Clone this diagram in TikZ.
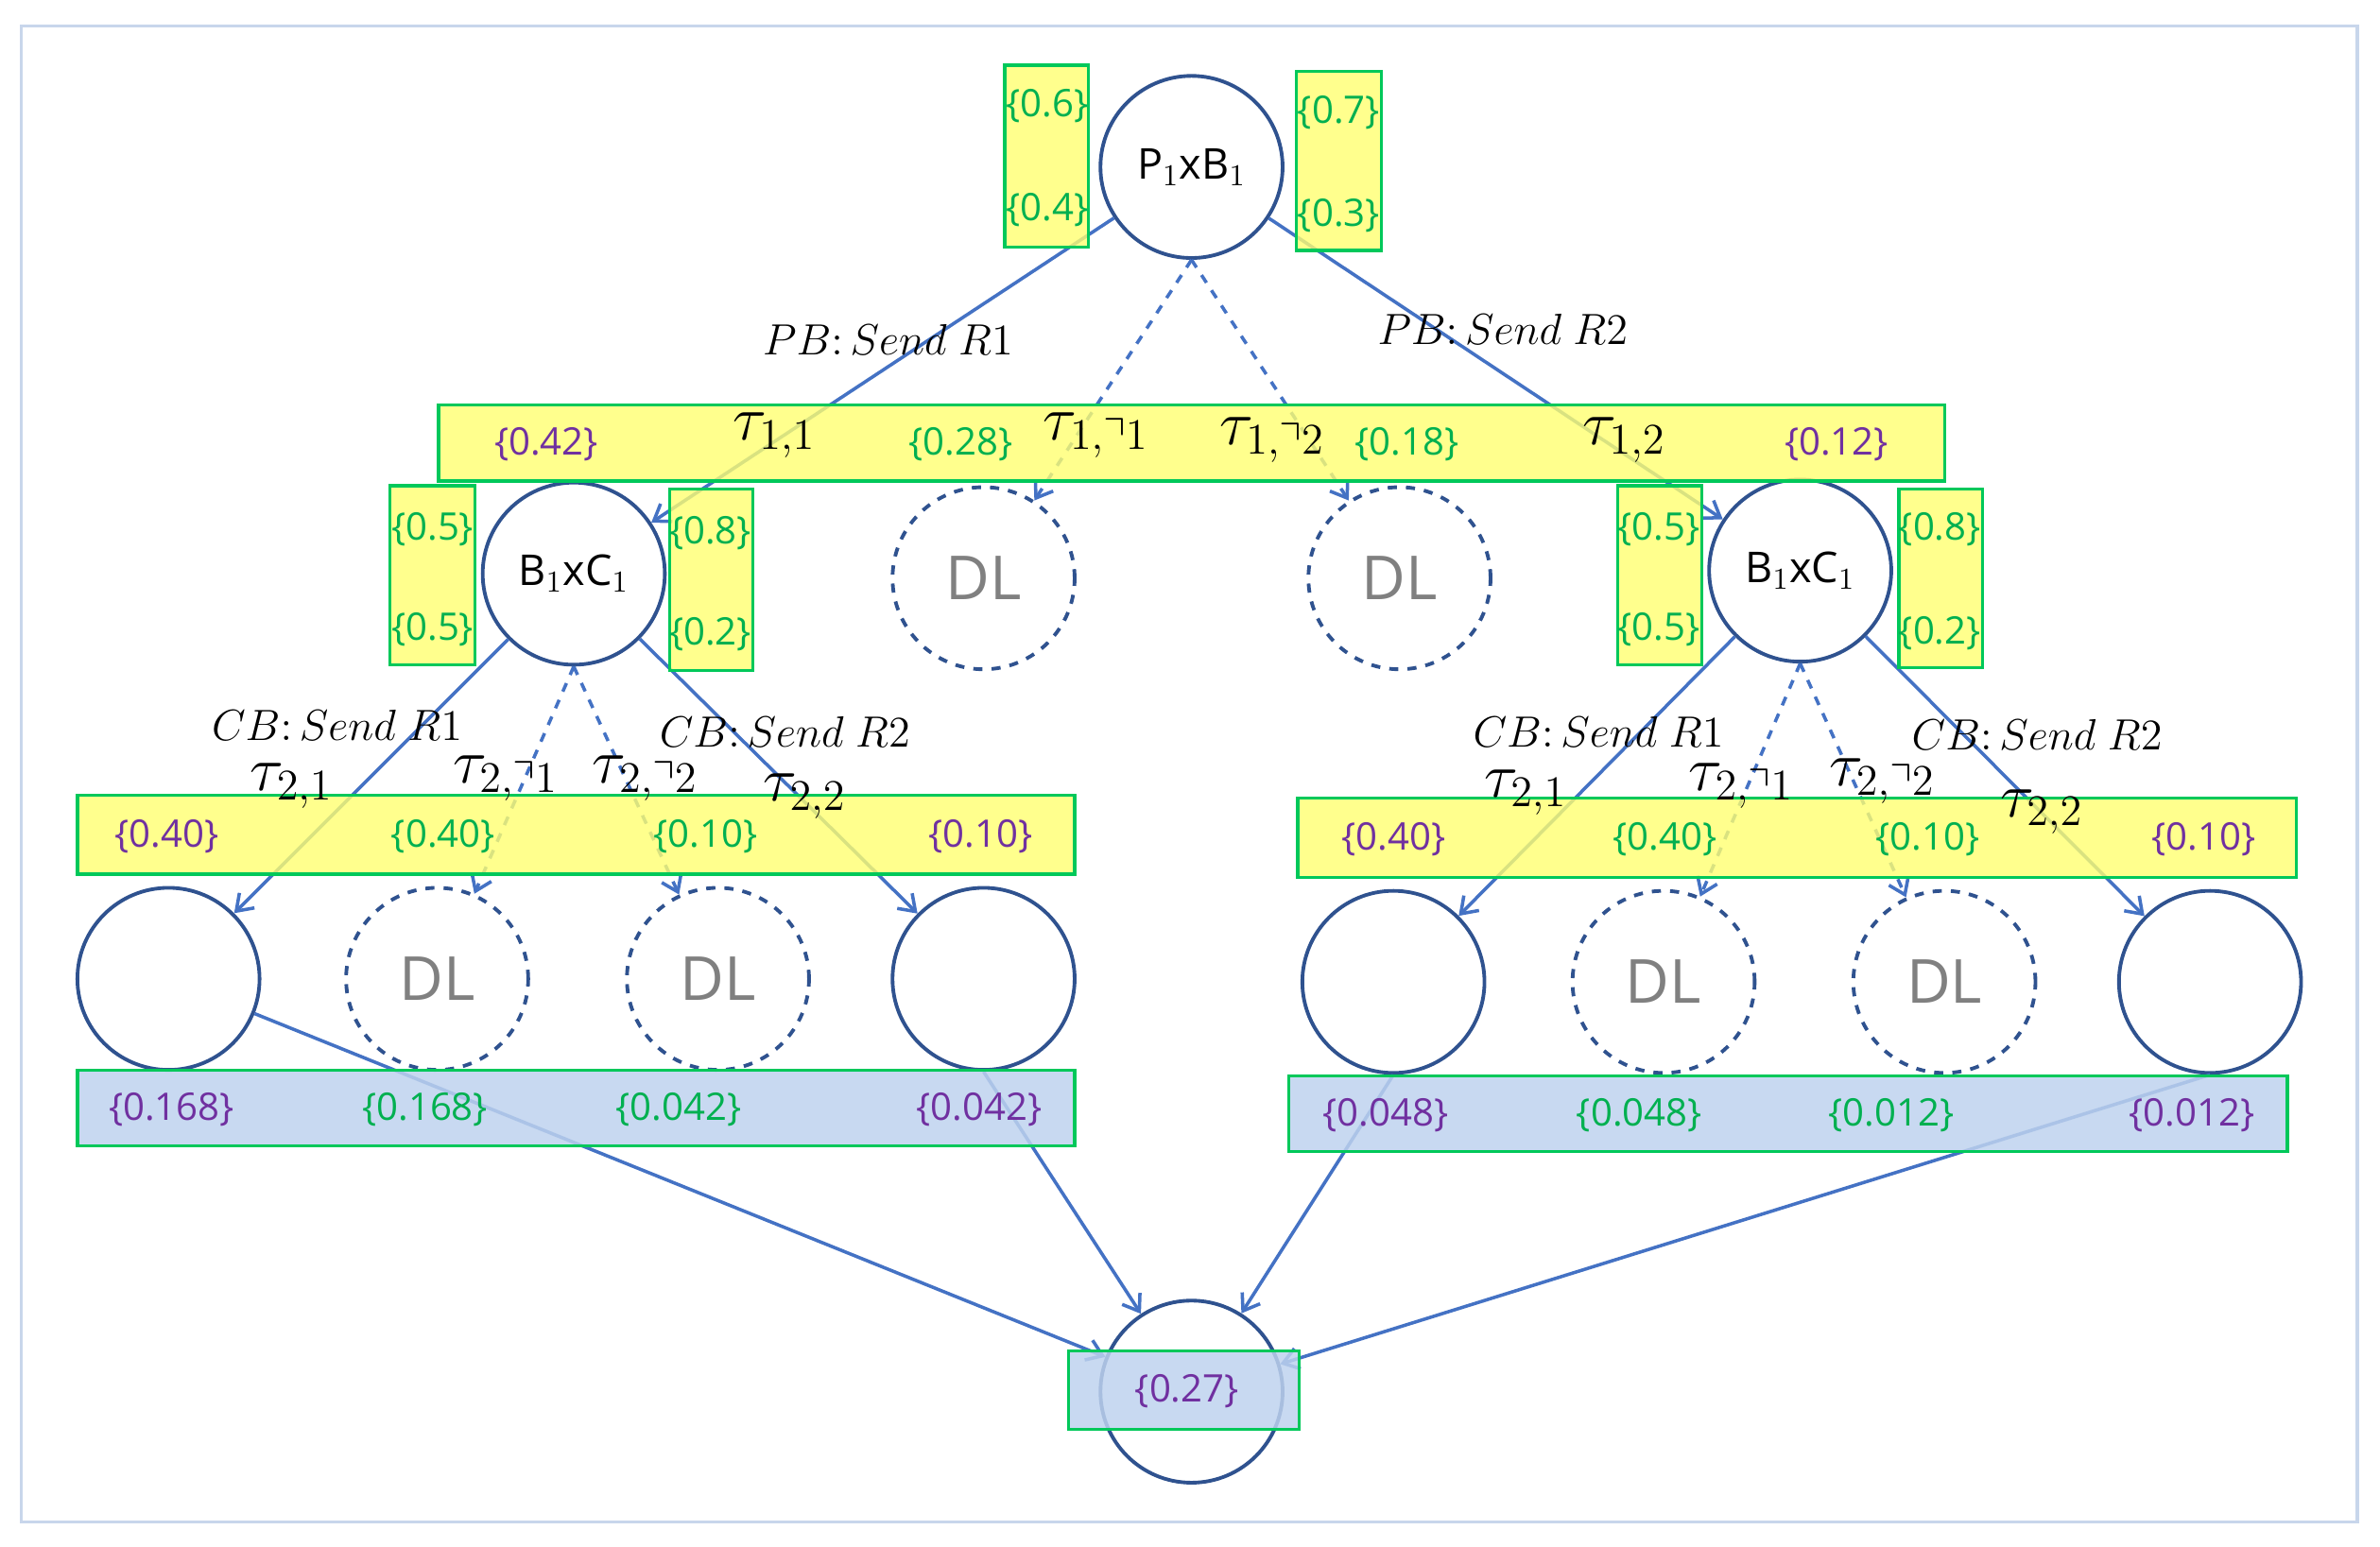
\documentclass[tikz,border=0pt]{standalone}
\usepackage{amssymb}
\usepackage{fontspec}
\setmainfont{Open Sans}
\usetikzlibrary{arrows.meta}
\definecolor{nodeblue}{RGB}{47,82,143}
\definecolor{arrowblue}{RGB}{68,114,196}
\definecolor{probgreen}{RGB}{0,176,80}
\definecolor{probpurple}{RGB}{112,48,160}
\definecolor{baryellow}{RGB}{255,255,112}
\definecolor{baredge}{RGB}{0,200,90}
\definecolor{barblue}{RGB}{190,210,238}
\definecolor{framecol}{RGB}{200,214,235}
\tikzset{every picture/.style={line width=0.75pt}}
\tikzset{
  state/.style={circle,draw=nodeblue,line width=1.2pt,minimum size=60pt,inner sep=0pt,font=\fontsize{14}{16}\selectfont},
  dead/.style={state,dashed,text=gray,font=\fontsize{20}{22}\selectfont},
  move/.style={draw=arrowblue,line width=1.1pt,-{Straight Barb[length=5pt,width=7pt]}},
  skip/.style={move,dashed},
  ybar/.style={draw=baredge,line width=1pt,fill=baryellow,fill opacity=0.8},
  bbar/.style={draw=baredge,line width=1pt,fill=barblue,fill opacity=0.85},
  gp/.style={text=probgreen,font=\fontsize{12.5}{14}\selectfont},
  pp/.style={text=probpurple,font=\fontsize{12.5}{14}\selectfont},
  tau/.style={font=\fontsize{21}{23}\selectfont},
  act/.style={font=\fontsize{15}{17}\selectfont}
}
\begin{document}
\begin{tikzpicture}[x=0.5pt,y=0.5pt,yscale=-1,xscale=1]
\useasboundingbox (0,0) rectangle (1568,1019);
% frame
\draw [draw=framecol,line width=1pt] (14,17) rectangle (1553,1003);

% States
\node [state] (root) at (785,110) {P$_1$xB$_1$};
\node [state] (bcL) at (378,378) {B$_1$xC$_1$};
\node [dead] (dlA) at (648,381) {DL};
\node [dead] (dlB) at (922,381) {DL};
\node [state] (bcR) at (1186,376) {B$_1$xC$_1$};
% left leaves
\node [state] (lfA) at (111,645) {};
\node [dead] (lfB) at (288,645) {DL};
\node [dead] (lfC) at (473,645) {DL};
\node [state] (lfD) at (648,645) {};
% right leaves
\node [state] (rfA) at (918,647) {};
\node [dead] (rfB) at (1096,647) {DL};
\node [dead] (rfC) at (1281,647) {DL};
\node [state] (rfD) at (1456,647) {};
% result
\node [state] (sink) at (785,917) {};

% Connectors
\draw [move] (root) -- (bcL);
\draw [skip] (root.south) -- (dlA);
\draw [skip] (root.south) -- (dlB);
\draw [move] (root) -- (bcR);
\draw [move] (bcL) -- (lfA);
\draw [skip] (bcL.south) -- (lfB);
\draw [skip] (bcL.south) -- (lfC);
\draw [move] (bcL) -- (lfD);
\draw [move] (bcR) -- (rfA);
\draw [skip] (bcR.south) -- (rfB);
\draw [skip] (bcR.south) -- (rfC);
\draw [move] (bcR) -- (rfD);
\draw [move] (lfA) -- (sink);
\draw [move] (lfD.south) -- (sink);
\draw [move] (rfA.south) -- (sink);
\draw [move] (rfD.south) -- (sink);

% Boxes
\draw [ybar] (662,43) rectangle (717,163);
\draw [ybar] (854,47) rectangle (910,165);
\draw [ybar] (289,267) rectangle (1281,317);
\draw [ybar] (257,320) rectangle (313,438);
\draw [ybar] (441,322) rectangle (496,442);
\draw [ybar] (1066,320) rectangle (1121,438);
\draw [ybar] (1251,322) rectangle (1306,440);
\draw [ybar] (51,524) rectangle (708,576);
\draw [ybar] (855,526) rectangle (1513,578);
\draw [bbar] (51,705) rectangle (708,755);
\draw [bbar] (849,709) rectangle (1507,759);
\draw [bbar] (704,890) rectangle (856,942);

% Text Node
\node [gp] at (690,70) {\{0.6\}};
\node [gp] at (690,138) {\{0.4\}};
\node [gp] at (882,74) {\{0.7\}};
\node [gp] at (882,142) {\{0.3\}};
\node [act] at (585,224) {$PB\colon Send\ R1$};
\node [act] at (990,217) {$PB\colon Send\ R2$};
\node [pp] at (360,293) {\{0.42\}};
\node [tau] at (510,287) {$\tau_{1,1}$};
\node [gp] at (633,293) {\{0.28\}};
\node [tau] at (722,287) {$\tau_{1,\urcorner 1}$};
\node [tau] at (838,290) {$\tau_{1,\urcorner 2}$};
\node [gp] at (927,293) {\{0.18\}};
\node [tau] at (1070,290) {$\tau_{1,2}$};
\node [pp] at (1210,293) {\{0.12\}};
\node [gp] at (285,349) {\{0.5\}};
\node [gp] at (285,415) {\{0.5\}};
\node [gp] at (468,351) {\{0.8\}};
\node [gp] at (468,418) {\{0.2\}};
\node [gp] at (1093,349) {\{0.5\}};
\node [gp] at (1093,415) {\{0.5\}};
\node [gp] at (1278,349) {\{0.8\}};
\node [gp] at (1278,417) {\{0.2\}};
% left subtree
\node [act] at (222,478) {$CB\colon Send\ R1$};
\node [act] at (517,482) {$CB\colon Send\ R2$};
\node [tau] at (192,518) {$\tau_{2,1}$};
\node [tau] at (333,513) {$\tau_{2,\urcorner 1}$};
\node [tau] at (425,513) {$\tau_{2,\urcorner 2}$};
\node [tau] at (530,525) {$\tau_{2,2}$};
\node [pp] at (110,551) {\{0.40\}};
\node [gp] at (292,551) {\{0.40\}};
\node [gp] at (465,551) {\{0.10\}};
\node [pp] at (646,551) {\{0.10\}};
\node [pp] at (113,731) {\{0.168\}};
\node [gp] at (280,731) {\{0.168\}};
\node [gp] at (447,731) {\{0.042\}};
\node [pp] at (645,731) {\{0.042\}};
% right subtree
\node [act] at (1053,482) {$CB\colon Send\ R1$};
\node [act] at (1342,484) {$CB\colon Send\ R2$};
\node [tau] at (1005,522) {$\tau_{2,1}$};
\node [tau] at (1147,518) {$\tau_{2,\urcorner 1}$};
\node [tau] at (1240,515) {$\tau_{2,\urcorner 2}$};
\node [tau] at (1345,535) {$\tau_{2,2}$};
\node [pp] at (918,553) {\{0.40\}};
\node [gp] at (1097,553) {\{0.40\}};
\node [gp] at (1270,553) {\{0.10\}};
\node [pp] at (1452,553) {\{0.10\}};
\node [pp] at (913,735) {\{0.048\}};
\node [gp] at (1080,735) {\{0.048\}};
\node [gp] at (1246,735) {\{0.012\}};
\node [pp] at (1444,735) {\{0.012\}};
\node [pp] at (782,917) {\{0.27\}};
\end{tikzpicture}
\end{document}
